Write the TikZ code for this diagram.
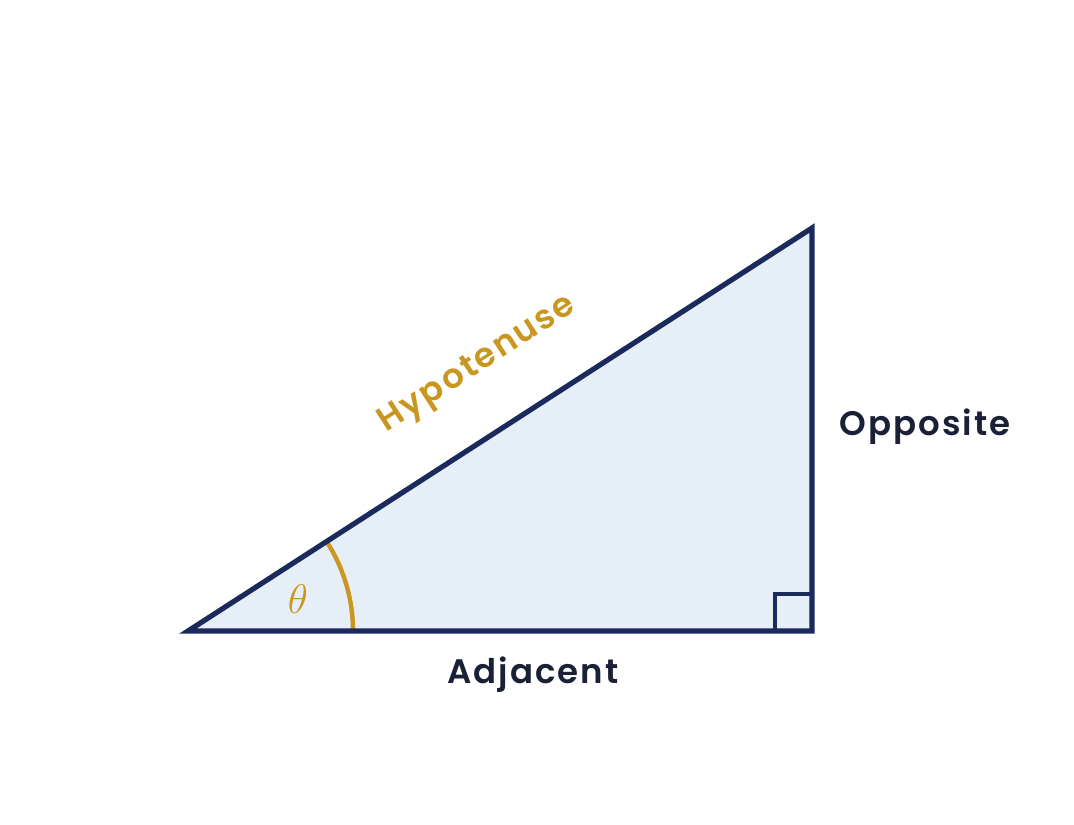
\documentclass[tikz,border=0pt]{standalone}
\usepackage{fontspec}
\setmainfont{Poppins}[BoldFont={* SemiBold},BoldFeatures={LetterSpace=6}]
\usetikzlibrary{calc}
\definecolor{navy}{HTML}{1B2A5C}
\definecolor{paleblue}{HTML}{E6EEF8}
\definecolor{gold}{HTML}{C9961F}
\definecolor{ink}{HTML}{1A2035}
\tikzset{
         side/.style={navy,line width=2.6pt,line join=miter},
         sidelabel/.style={ink,font=\bfseries\fontsize{17}{20}\selectfont},
         anglemark/.style={gold,line width=2.2pt}
        }

\begin{document}
\begin{tikzpicture}[x=0.5pt,y=0.5pt]
\useasboundingbox(0,0) rectangle (1074,824);
\coordinate (A) at (188,193);
\coordinate (B) at (812,193);
\coordinate (C) at (812,596);
\fill[paleblue](A)--(B)--(C)--cycle;
\draw[navy,line width=1.6pt]($(B)+(-37,0)$) rectangle ($(B)+(0,37)$);
\draw[anglemark]($(A)+(165,0)$) arc (0:32.86:165);
\draw[side](A)--(B)--(C)--cycle;
\node[gold,font=\fontsize{20}{24}\selectfont] (theta) at (298,225){$\theta$};
\node[sidelabel,gold,rotate=32.86] (hyp) at (478,459){Hypotenuse};
\node[sidelabel] (adj) at (533,149){Adjacent};
\node[sidelabel] (opp) at (925,397){Opposite};
\end{tikzpicture}
\end{document}
